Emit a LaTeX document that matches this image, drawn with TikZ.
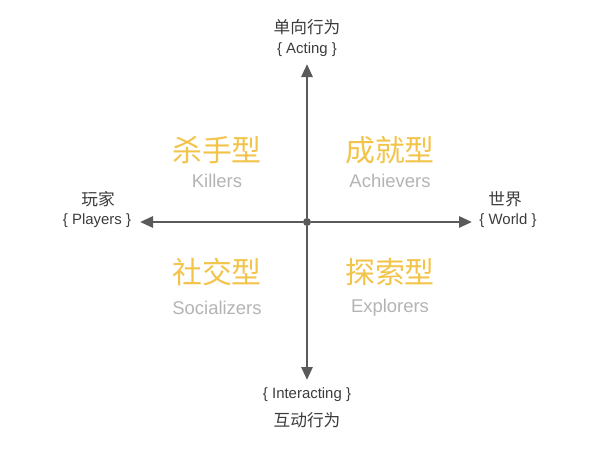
\documentclass[tikz,border=0pt]{standalone}
\usepackage{fontspec}
\setmainfont{Liberation Sans}
\newfontfamily\cjk{Noto Sans CJK SC}
\usepackage{xcolor}
\usetikzlibrary{arrows.meta, positioning}
\definecolor{axisGray}{HTML}{5A5A5A}
\definecolor{typeGold}{HTML}{F2C44A}
\definecolor{nameGray}{HTML}{B4B4B4}
\definecolor{labelGray}{HTML}{3C3C3C}
\tikzset{
    axisLine/.style={line width=1.6pt, draw=axisGray, -{Triangle[length=2.6mm, width=2.2mm]}},
    typeTitle/.style={inner sep=0pt, text=typeGold, font=\cjk\fontsize{17}{17}\selectfont},
    typeName/.style={inner sep=0pt, text=nameGray, font=\fontsize{10.5}{10.5}\selectfont},
    axisCjk/.style={inner sep=0pt, text=labelGray, font=\cjk\fontsize{9.5}{9.5}\selectfont},
    axisEn/.style={inner sep=0pt, text=labelGray, font=\fontsize{8.5}{8.5}\selectfont}
}

\begin{document}
\begin{tikzpicture}
    \fill[white] (0,0) rectangle (12,9.02);
    \useasboundingbox (0,0) rectangle (12,9.02);
    % --- Axes ---
    \node[circle, fill=axisGray, inner sep=0pt, minimum size=1.6mm] (o) at (6.14,4.58) {};
    \coordinate (top) at (6.14,7.74); \coordinate (bot) at (6.14,1.42);
    \coordinate (lft) at (2.80,4.58); \coordinate (rgt) at (9.44,4.58);
    \draw[axisLine] (o) -- (top);
    \draw[axisLine] (o) -- (bot);
    \draw[axisLine] (o) -- (lft);
    \draw[axisLine] (o) -- (rgt);
    % --- Axis labels ---
    \node[axisCjk] (actCn) at (6.14,8.48) {单向行为};
    \node[axisEn] (actEn) at (6.14,8.02) {\{ Acting \}};
    \node[axisEn] (intEn) at (6.14,1.12) {\{ Interacting \}};
    \node[axisCjk] (intCn) at (6.14,0.62) {互动行为};
    \node[axisCjk] (plyCn) at (1.96,5.04) {玩家};
    \node[axisEn] (plyEn) at (1.94,4.60) {\{ Players \}};
    \node[axisCjk] (wldCn) at (10.10,5.04) {世界};
    \node[axisEn] (wldEn) at (10.16,4.60) {\{ World \}};
    % --- Quadrants ---
    \node[typeTitle] (kilCn) at (4.34,6.02) {杀手型};
    \node[typeName] (kilEn) at (4.34,5.40) {Killers};
    \node[typeTitle] (achCn) at (7.80,6.02) {成就型};
    \node[typeName] (achEn) at (7.80,5.40) {Achievers};
    \node[typeTitle] (socCn) at (4.34,3.58) {社交型};
    \node[typeName] (socEn) at (4.34,2.86) {Socializers};
    \node[typeTitle] (expCn) at (7.80,3.58) {探索型};
    \node[typeName] (expEn) at (7.80,2.86) {Explorers};
\end{tikzpicture}
\end{document}
